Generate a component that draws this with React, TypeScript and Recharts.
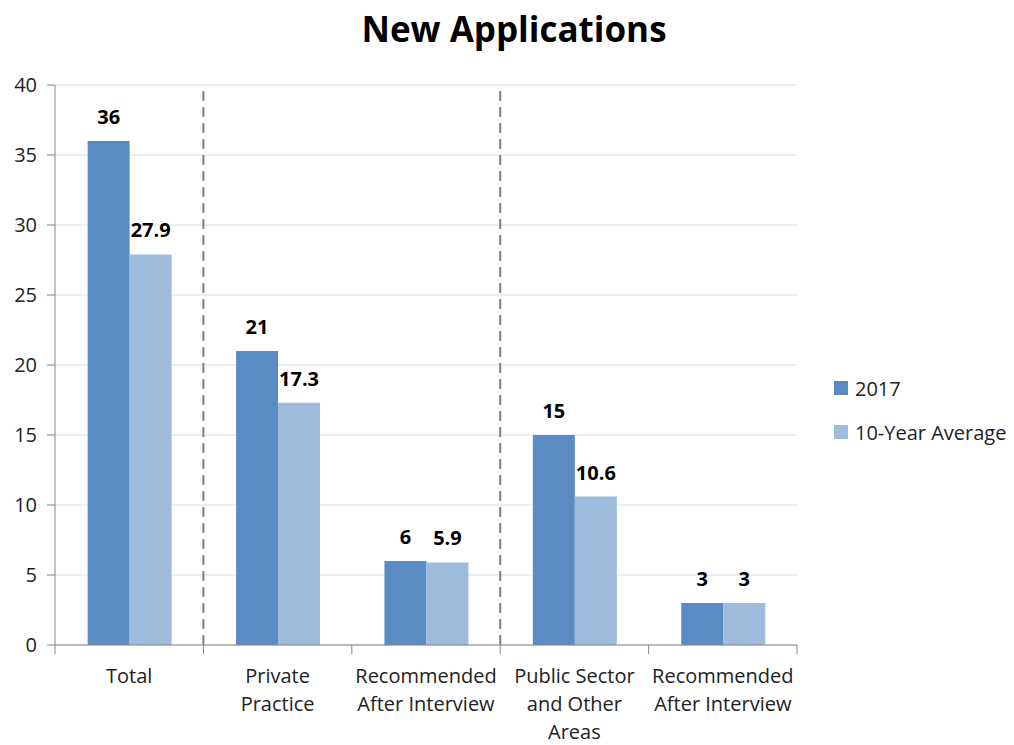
import React from "react";
import {
  BarChart,
  Bar,
  XAxis,
  YAxis,
  CartesianGrid,
  Legend,
  LabelList,
  ReferenceLine,
} from "recharts";

const categoryKeys = ["total", "private", "recPrivate", "public", "recPublic"];
const categoryLabels = [
  ["Total"],
  ["Private", "Practice"],
  ["Recommended", "After Interview"],
  ["Public Sector", "and Other", "Areas"],
  ["Recommended", "After Interview"],
];
const values2017 = [36, 21, 6, 15, 3];
const valuesAvg = [27.9, 17.3, 5.9, 10.6, 3];
const seriesNames = ["2017", "10-Year Average"];
const seriesColors = ["#5B8BC4", "#9EBBDB"];
const yTicks = [0, 5, 10, 15, 20, 25, 30, 35, 40];
const dividerKeys = ["private", "public"];

const data = categoryKeys.map((k, i) => ({
  key: k,
  v2017: values2017[i],
  avg: valuesAvg[i],
}));

const FONT = "'Open Sans', 'Noto Sans', sans-serif";

function CategoryTick(props: any) {
  const { x, y, index, width, visibleTicksCount } = props;
  const band = width / visibleTicksCount;
  const lines = categoryLabels[index] || [];
  const left = x - band / 2;
  const right = x + band / 2;
  return (
    <g>
      <line x1={left} y1={y} x2={left} y2={y + 9} stroke="#868686" strokeWidth={1} />
      {index === visibleTicksCount - 1 && (
        <line x1={right} y1={y} x2={right} y2={y + 9} stroke="#868686" strokeWidth={1} />
      )}
      <text
        x={x}
        y={y + 38}
        textAnchor="middle"
        fill="#222"
        fontSize={20}
        fontFamily={FONT}
      >
        {lines.map((l, i) => (
          <tspan key={i} x={x} dy={i === 0 ? 0 : 28}>
            {l}
          </tspan>
        ))}
      </text>
    </g>
  );
}

function LegendContent() {
  return (
    <div style={{ fontFamily: FONT }}>
      {seriesNames.map((name, i) => (
        <div
          key={i}
          style={{
            display: "flex",
            alignItems: "center",
            height: 44,
            fontSize: 20,
            color: "#222",
            whiteSpace: "nowrap",
          }}
        >
          <span
            style={{
              display: "inline-block",
              width: 14,
              height: 14,
              background: seriesColors[i],
              marginRight: 7,
            }}
          />
          {name}
        </div>
      ))}
    </div>
  );
}

export default function App() {
  return (
    <div
      style={{
        position: "absolute",
        left: 0,
        top: 0,
        width: 1014,
        height: 745,
        background: "#fff",
      }}
    >
      <div
        style={{
          position: "absolute",
          left: 0,
          top: 5,
          width: 1028,
          textAlign: "center",
          fontFamily: FONT,
          fontWeight: 700,
          fontSize: 35,
          color: "#000",
        }}
      >
        New Applications
      </div>
      <BarChart
        width={1014}
        height={745}
        data={data}
        margin={{ top: 85, right: 217, bottom: 0, left: 0 }}
        barCategoryGap="22%"
        barGap={0}
      >
        <CartesianGrid vertical={false} stroke="#DDDDDD" />
        <XAxis
          dataKey="key"
          height={100}
          tickSize={0}
          tickMargin={0}
          tickLine={false}
          interval={0}
          stroke="#868686"
          tick={<CategoryTick />}
        />
        <YAxis
          width={55}
          domain={[0, 40]}
          ticks={yTicks}
          interval={0}
          tickSize={8}
          tickMargin={10}
          stroke="#868686"
          tick={{ fill: "#222", fontSize: 20, fontFamily: FONT }}
        />
        {dividerKeys.map((k) => (
          <ReferenceLine
            key={k}
            x={k}
            position="start"
            stroke="#7F7F7F"
            strokeWidth={2}
            strokeDasharray="10 6"
          />
        ))}
        <Legend
          layout="horizontal"
          verticalAlign="middle"
          align="center"
          wrapperStyle={{ left: 834, top: 366, width: 180 }}
          content={<LegendContent />}
        />
        <Bar
          dataKey="v2017"
          name={seriesNames[0]}
          fill={seriesColors[0]}
          isAnimationActive={false}
        >
          <LabelList
            dataKey="v2017"
            position="top"
            offset={17}
            fill="#000"
            fontSize={20}
            fontWeight={700}
            fontFamily={FONT}
          />
        </Bar>
        <Bar
          dataKey="avg"
          name={seriesNames[1]}
          fill={seriesColors[1]}
          isAnimationActive={false}
        >
          <LabelList
            dataKey="avg"
            position="top"
            offset={17}
            fill="#000"
            fontSize={20}
            fontWeight={700}
            fontFamily={FONT}
          />
        </Bar>
      </BarChart>
    </div>
  );
}
